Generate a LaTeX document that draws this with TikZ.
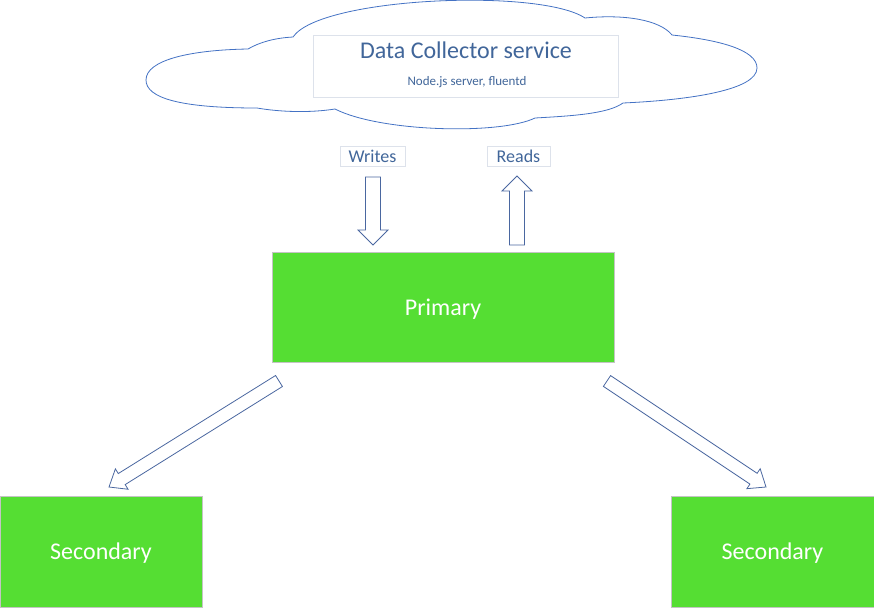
\documentclass[tikz,border=0pt]{standalone}
\usepackage{fontspec}
\setmainfont{Carlito}
\usetikzlibrary{calc}
\definecolor{cloudblue}{HTML}{4472C4}
\definecolor{arrowblue}{HTML}{4A67A0}
\definecolor{labelblue}{HTML}{41669A}
\definecolor{nodegreen}{HTML}{55DE33}
\definecolor{boxgray}{HTML}{C4C4C4}
\definecolor{paleline}{HTML}{DDE2EB}
% hollow block arrow: shaft half width, head half width, tail, tip
\newcommand{\blockarrow}[4]{%
  \coordinate (neck) at ($(#4)!15pt!(#3)$);
  \draw[hollowarrow] ($(#3)!#1!90:(#4)$) -- ($(neck)!#1!90:(#4)$) -- ($(neck)!#2!90:(#4)$) -- (#4)
    -- ($(neck)!#2!-90:(#4)$) -- ($(neck)!#1!-90:(#4)$) -- ($(#3)!#1!-90:(#4)$) -- cycle;}

\begin{document}
\begin{tikzpicture}[x=1pt, y=-1pt,
  server/.style={draw=boxgray, fill=nodegreen, text=white, text depth=0pt, font=\fontsize{24}{28}\selectfont},
  tag/.style={draw=paleline, fill=white, text=labelblue, inner sep=0pt, minimum height=20pt, font=\fontsize{18}{22}\selectfont},
  hollowarrow/.style={draw=arrowblue, fill=white, line width=0.8pt, line join=miter}]
\useasboundingbox (0,0) rectangle (874,608);
% cloud
\draw[cloudblue, line width=0.8pt, fill=white] (146,80) .. controls (146,60) and (190,50) .. (248,49)
  .. controls (260,42) and (275,38) .. (293,37)
  .. controls (320,-3) and (540,-12) .. (585,18)
  .. controls (625,14) and (660,20) .. (672,35)
  .. controls (720,40) and (757,50) .. (757,68)
  .. controls (757,90) and (690,100) .. (623,103)
  .. controls (608,114) and (570,116) .. (535,118)
  .. controls (500,135) and (380,132) .. (335,109)
  .. controls (310,113) and (280,112) .. (257,108)
  .. controls (180,108) and (146,98) .. cycle;
\node[draw=paleline, fill=white, minimum width=305pt, minimum height=62pt] (collector) at (465.5,66) {};
\node[text=labelblue, font=\fontsize{24}{28}\selectfont] (title) at (466,50) {Data Collector service};
\node[text=labelblue, font=\fontsize{13}{15}\selectfont] (subtitle) at (467,82) {Node.js server, fluentd};
% labels
\node[tag, minimum width=65pt] (writes) at (372.5,156) {Writes};
\node[tag, minimum width=63pt] (reads) at (518.5,156) {Reads};
% nodes
\node[server, minimum width=342pt, minimum height=110pt] (primary) at (443,307) {Primary};
\node[server, minimum width=202pt, minimum height=111pt] (secleft) at (101,551.5) {Secondary};
\node[server, minimum width=203pt, minimum height=111pt] (secright) at (772.5,551.5) {Secondary};
% arrows
\coordinate (writes-tail) at (373,177);
\coordinate (writes-tip) at (373,245);
\coordinate (reads-tail) at (517,245);
\coordinate (reads-tip) at (517,176);
\coordinate (left-tail) at (279,381);
\coordinate (left-tip) at (109,487);
\coordinate (right-tail) at (607,381);
\coordinate (right-tip) at (766,487);
\blockarrow{7.5pt}{15pt}{writes-tail}{writes-tip}
\blockarrow{7.5pt}{15pt}{reads-tail}{reads-tip}
\blockarrow{6.5pt}{12pt}{left-tail}{left-tip}
\blockarrow{6.5pt}{12pt}{right-tail}{right-tip}
\end{tikzpicture}
\end{document}
